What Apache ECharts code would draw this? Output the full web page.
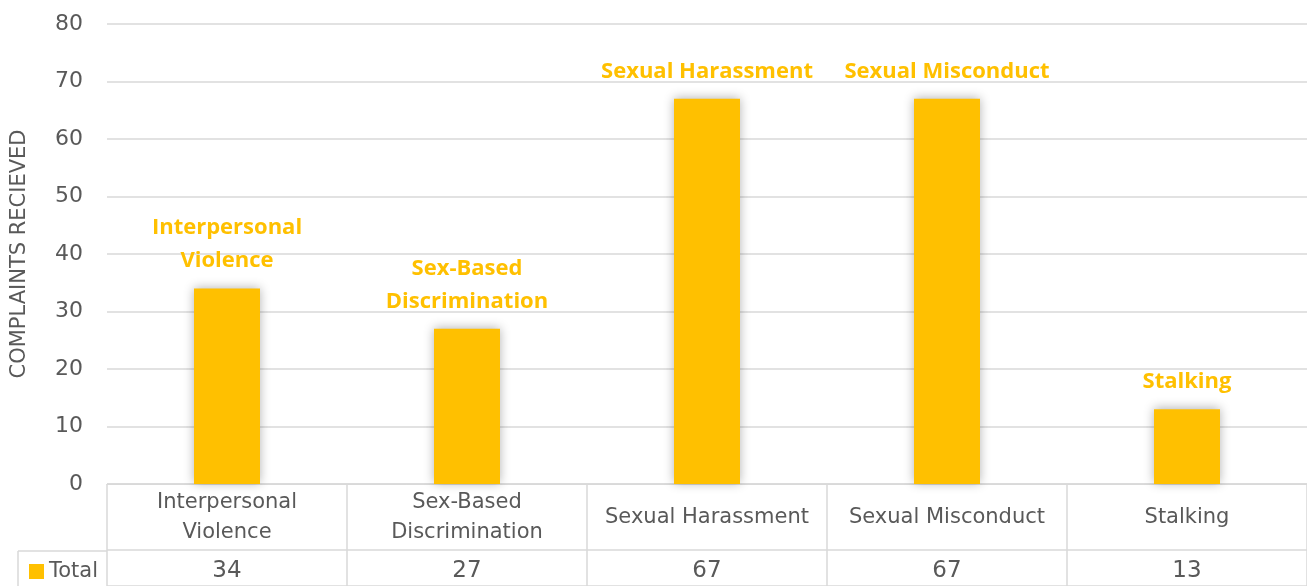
<!DOCTYPE html>
<html>
<head>
<meta charset="utf-8">
<script src="https://cdn.jsdelivr.net/npm/echarts@6/dist/echarts.min.js"></script>
<style>
  html, body { margin: 0; padding: 0; background: #fff; }
  #chart { width: 1307px; height: 586px; }
</style>
</head>
<body>
<div id="chart"></div>
<script>
// chart data
let categories = ['Interpersonal Violence', 'Sex-Based Discrimination', 'Sexual Harassment', 'Sexual Misconduct', 'Stalking'];
let totals = [34, 27, 67, 67, 13];
let seriesName = 'Total';
let axisTitle = 'COMPLAINTS RECIEVED';

let gray = '#595959';
let border = '#d9d9d9';
let gold = '#FFC000';

// long names wrap onto two lines, as in the source table
function wrap(name) {
    return name.length > 18 ? name.replace(' ', '\n') : name;
}

let chart = echarts.init(document.getElementById('chart'));

let options = {
    animation: false,
    grid: [
        {left: 107, right: 0, top: 24, bottom: 102},
        {left: 107, right: 0, top: 484, bottom: 0}
    ],
    legend: {
        data: [seriesName],
        left: 24,
        top: 556,
        icon: 'rect',
        itemWidth: 15,
        itemHeight: 15,
        itemGap: 4,
        textStyle: {color: gray, fontSize: 21, fontFamily: 'DejaVu Sans'}
    },
    xAxis: [
        {
            type: 'category',
            gridIndex: 0,
            data: categories,
            axisLine: {show: true, lineStyle: {color: border}},
            axisTick: {show: false},
            axisLabel: {
                interval: 0,
                margin: 34,
                verticalAlign: 'middle',
                lineHeight: 30,
                color: gray,
                fontSize: 21,
                fontFamily: 'DejaVu Sans',
                formatter: wrap
            }
        },
        {
            type: 'category',
            gridIndex: 0,
            position: 'bottom',
            data: totals.map(String),
            axisLine: {show: false},
            axisTick: {show: false},
            axisLabel: {
                interval: 0,
                margin: 87,
                verticalAlign: 'middle',
                color: gray,
                fontSize: 23,
                fontFamily: 'DejaVu Sans'
            }
        },
        {
            type: 'category',
            gridIndex: 1,
            data: categories,
            axisLine: {show: false},
            axisTick: {show: false},
            axisLabel: {show: false},
            splitLine: {show: true, interval: 0, lineStyle: {color: border, width: 1.5}}
        }
    ],
    yAxis: [
        {
            type: 'value',
            gridIndex: 0,
            min: 0,
            max: 80,
            interval: 10,
            name: axisTitle,
            nameLocation: 'middle',
            nameRotate: 90,
            nameGap: 77,
            nameTextStyle: {color: gray, fontSize: 21, fontFamily: 'DejaVu Sans'},
            axisLine: {show: false},
            axisTick: {show: false},
            axisLabel: {margin: 24, color: gray, fontSize: 22, fontFamily: 'DejaVu Sans'},
            splitLine: {lineStyle: {color: border, width: 1.5}}
        },
        {
            type: 'value',
            gridIndex: 1,
            inverse: true,
            min: 0,
            max: 102,
            interval: 66,
            axisLine: {show: false},
            axisTick: {show: false},
            axisLabel: {show: false},
            splitLine: {show: true, lineStyle: {color: border, width: 1.5}}
        }
    ],
    series: [
        {
            name: seriesName,
            type: 'bar',
            xAxisIndex: 0,
            yAxisIndex: 0,
            data: totals,
            barWidth: 66,
            itemStyle: {
                color: gold,
                shadowColor: 'rgba(0,0,0,0.3)',
                shadowBlur: 10,
                shadowOffsetX: 0,
                shadowOffsetY: -1
            },
            label: {
                show: true,
                position: 'top',
                distance: 11,
                color: gold,
                fontWeight: 'bold',
                fontSize: 22,
                lineHeight: 33,
                fontFamily: 'Open Sans',
                formatter: function (p) {
                    return wrap(p.name);
                }
            }
        }
    ],
    graphic: [
        {type: 'line', shape: {x1: 18, y1: 551, x2: 107, y2: 551}, style: {stroke: border, lineWidth: 1.5}},
        {type: 'line', shape: {x1: 18, y1: 551, x2: 18, y2: 586}, style: {stroke: border, lineWidth: 1.5}}
    ]
};

chart.setOption(options);
</script>
</body>
</html>
